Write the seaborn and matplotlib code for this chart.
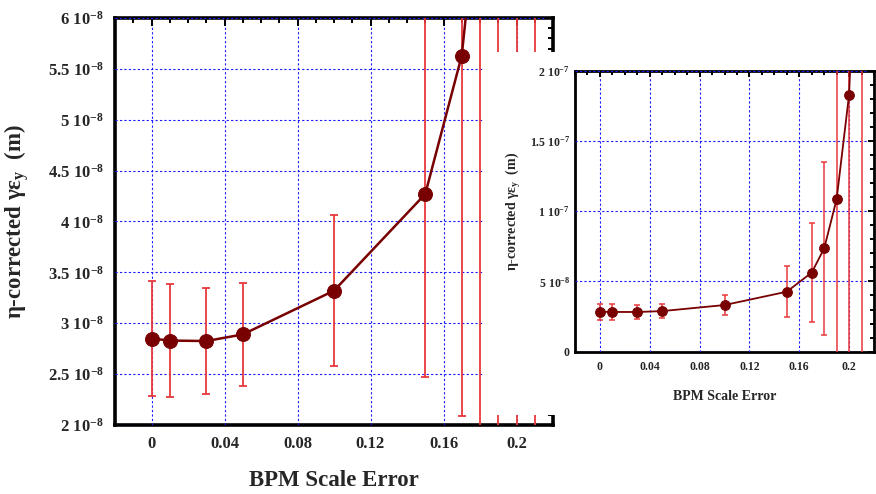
import matplotlib
matplotlib.use("Agg")
import matplotlib.pyplot as plt
from matplotlib.patches import Rectangle
from matplotlib.ticker import FixedLocator, MultipleLocator
import seaborn as sns
import pandas as pd

# ---------------- data ----------------
scale_error = [0.00, 0.01, 0.03, 0.05, 0.10, 0.15, 0.17, 0.18, 0.19, 0.20, 0.21]
emittance = [2.85e-8, 2.83e-8, 2.825e-8, 2.89e-8, 3.32e-8, 4.27e-8, 5.63e-8,
             7.35e-8, 1.085e-7, 1.83e-7, 4.0e-7]
emit_err = [0.565e-8, 0.555e-8, 0.52e-8, 0.51e-8, 0.74e-8, 1.80e-8, 3.54e-8,
            6.15e-8, 1.6e-7, 2.5e-7, 5.0e-7]

xticks = [0, 0.04, 0.08, 0.12, 0.16, 0.2]
xtick_labels = ["0", "0.04", "0.08", "0.12", "0.16", "0.2"]
main_yticks = [2e-8, 2.5e-8, 3e-8, 3.5e-8, 4e-8, 4.5e-8, 5e-8, 5.5e-8, 6e-8]
main_ytick_labels = [r"$2\ 10^{-8}$", r"$2.5\ 10^{-8}$", r"$3\ 10^{-8}$", r"$3.5\ 10^{-8}$",
                     r"$4\ 10^{-8}$", r"$4.5\ 10^{-8}$", r"$5\ 10^{-8}$", r"$5.5\ 10^{-8}$",
                     r"$6\ 10^{-8}$"]
inset_yticks = [0, 5e-8, 1e-7, 1.5e-7, 2e-7]
inset_ytick_labels = [r"$0$", r"$5\ 10^{-8}$", r"$1\ 10^{-7}$", r"$1.5\ 10^{-7}$", r"$2\ 10^{-7}$"]

xlabel = "BPM Scale Error"
ylabel = r"η-corrected γε$_{y}$  (m)"

df = pd.DataFrame({"x": scale_error, "y": emittance, "err": emit_err})

# ---------------- style ----------------
sns.set_theme(style="white")
plt.rcParams["font.family"] = ["Liberation Serif", "DejaVu Serif"]
plt.rcParams["font.weight"] = "bold"
plt.rcParams["mathtext.fontset"] = "custom"
plt.rcParams["mathtext.rm"] = "Liberation Serif:bold"
plt.rcParams["mathtext.it"] = "Liberation Serif:bold"
plt.rcParams["mathtext.bf"] = "Liberation Serif:bold"
plt.rcParams["mathtext.default"] = "rm"

LINE = "#780000"
ERR = "#e8383c"
GRID = "#1a1aff"

fig = plt.figure(figsize=(8.76, 4.94), dpi=100)


def style_axes(ax, xlim, ylim, yticks, ylabels, yminor, fs_tick, fs_label,
               spine_w, xpad, ypad, xlabpad, ylabpad, tick_len):
    ax.set_xlim(*xlim)
    ax.set_ylim(*ylim)
    ax.xaxis.set_major_locator(FixedLocator(xticks))
    ax.xaxis.set_minor_locator(MultipleLocator(0.01))
    ax.yaxis.set_major_locator(FixedLocator(yticks))
    ax.yaxis.set_minor_locator(MultipleLocator(yminor))
    ax.set_xticklabels(xtick_labels, fontsize=fs_tick, fontweight="bold")
    ax.set_yticklabels(ylabels, fontsize=fs_tick)
    ax.tick_params(which="both", direction="in", top=True, right=True,
                   color="black", width=1.4)
    ax.tick_params(which="major", length=tick_len)
    ax.tick_params(which="minor", length=tick_len * 0.65)
    ax.tick_params(axis="x", pad=xpad)
    ax.tick_params(axis="y", pad=ypad)
    for s in ax.spines.values():
        s.set_linewidth(spine_w)
        s.set_color("black")
        s.set_visible(True)
    ax.grid(True, which="major", color=GRID, linestyle=(0, (2, 2)), linewidth=0.8)
    ax.set_axisbelow(False)
    ax.set_xlabel(xlabel, fontsize=fs_label, fontweight="bold", labelpad=xlabpad)
    ax.set_ylabel(ylabel, fontsize=fs_label, fontweight="bold", labelpad=ylabpad)


# ---------------- main axes ----------------
ax = fig.add_axes([115 / 876, 69 / 494, 438 / 876, 407 / 494])
ax.set_facecolor("white")
ax.errorbar(df["x"], df["y"], yerr=df["err"], fmt="none", ecolor=ERR,
            elinewidth=1.3, capsize=3, capthick=1.3, zorder=3)
sns.lineplot(data=df, x="x", y="y", ax=ax, color=LINE, linewidth=1.8,
             marker="o", markersize=10, markeredgecolor=LINE,
             markerfacecolor=LINE, zorder=4)
style_axes(ax, (-0.02, 0.22), (2e-8, 6e-8), main_yticks, main_ytick_labels, 1e-9,
           fs_tick=12, fs_label=16.5, spine_w=2.6, xpad=8, ypad=8,
           xlabpad=13, ylabpad=12, tick_len=6)

# white box masking the right part of the main panel
fig.add_artist(Rectangle((484 / 876, 79 / 494), 1 - 484 / 876, 363 / 494,
                         transform=fig.transFigure, facecolor="white",
                         edgecolor="none", zorder=1))

# ---------------- inset axes ----------------
axi = fig.add_axes([575 / 876, (494 - 351.7) / 494, 299 / 876, 281 / 494])
axi.set_zorder(2)
axi.set_facecolor("white")
axi.errorbar(df["x"], df["y"], yerr=df["err"], fmt="none", ecolor=ERR,
             elinewidth=1.1, capsize=2.5, capthick=1.1, zorder=3)
sns.lineplot(data=df, x="x", y="y", ax=axi, color=LINE, linewidth=1.3,
             marker="o", markersize=7, markeredgecolor=LINE,
             markerfacecolor=LINE, zorder=4)
style_axes(axi, (-0.02, 0.22), (0, 2e-7), inset_yticks, inset_ytick_labels, 1e-8,
           fs_tick=8.5, fs_label=10, spine_w=2.0, xpad=7, ypad=3.5,
           xlabpad=12, ylabpad=5, tick_len=4)

fig.savefig("out.png", dpi=100)
